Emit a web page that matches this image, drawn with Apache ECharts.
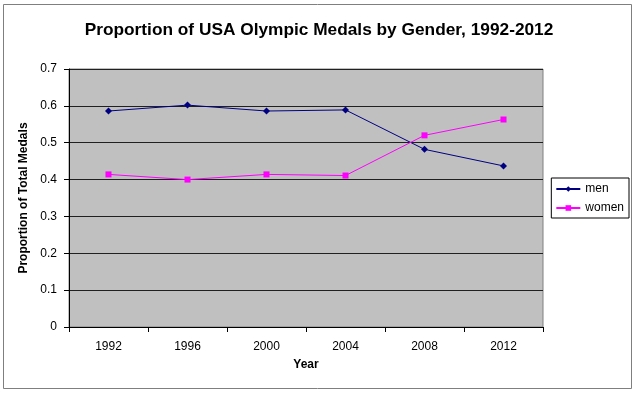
<!DOCTYPE html>
<html><head><meta charset="utf-8">
<script src="https://cdn.jsdelivr.net/npm/echarts@6/dist/echarts.min.js"></script>
<style>html,body{margin:0;padding:0;background:#fff}#c{width:640px;height:393px}</style>
</head><body><div id="c"></div>
<script>
const years = ['1992','1996','2000','2004','2008','2012'];
const men = [0.586, 0.602, 0.586, 0.589, 0.482, 0.437];
const women = [0.414, 0.400, 0.414, 0.411, 0.520, 0.563];
const yTicks = [0, 0.1, 0.2, 0.3, 0.4, 0.5, 0.6, 0.7];

const chart = echarts.init(document.getElementById('c'));
const F = 'Liberation Sans, Arial, sans-serif';
chart.setOption({
  animation: false,
  backgroundColor: '#fff',
  graphic: [{type:'rect', shape:{x:3.5,y:4.5,width:628,height:384}, style:{fill:'none', stroke:'#7f7f7f', lineWidth:1}, silent:true}],
  title: {text:'Proportion of USA Olympic Medals by Gender, 1992-2012', left:314, textAlign:'center', top:17,
    textStyle:{fontFamily:F, fontSize:17.3, fontWeight:'bold', color:'#000'}},
  grid: {left:69, right:97, top:69, bottom:66, show:true, backgroundColor:'#c0c0c0', borderColor:'#808080', borderWidth:1},
  legend: {orient:'vertical', right:11, top:178, itemWidth:24, itemHeight:7, itemGap:7,
    borderColor:'#000', borderWidth:1, padding:[5,5,4,4], backgroundColor:'#fff',
    textStyle:{fontFamily:F, fontSize:12, color:'#000'}, data:['men','women']},
  xAxis: {type:'category', data:years, boundaryGap:true, name:'Year', nameLocation:'middle', nameGap:32,
    nameTextStyle:{fontFamily:F, fontSize:12, fontWeight:'bold', color:'#000'},
    axisLine:{lineStyle:{color:'#000'}}, axisTick:{show:true, length:5, lineStyle:{color:'#000'}},
    axisLabel:{fontFamily:F, fontSize:12, color:'#000', margin:14}},
  yAxis: {type:'value', min:0, max:0.7, interval:0.1, name:'Proportion of Total Medals', nameLocation:'middle', nameGap:38,
    nameTextStyle:{fontFamily:F, fontSize:12, fontWeight:'bold', color:'#000'},
    axisLine:{show:true, lineStyle:{color:'#000'}}, axisTick:{show:true, length:5, lineStyle:{color:'#000'}},
    splitLine:{lineStyle:{color:'#202020', width:1.2}},
    axisLabel:{fontFamily:F, fontSize:12, color:'#000', margin:12, formatter: v => yTicks.includes(+v.toFixed(1)) ? String(+v.toFixed(1)) : ''}},
  series: [
    {name:'men', type:'line', data:men, color:'#000080', symbol:'diamond', symbolSize:7, lineStyle:{width:1, color:'#000080'}, itemStyle:{color:'#000080'}},
    {name:'women', type:'line', data:women, color:'#ff00ff', symbol:'rect', symbolSize:6, lineStyle:{width:1, color:'#ff00ff'}, itemStyle:{color:'#ff00ff'}}
  ]
});
</script></body></html>
